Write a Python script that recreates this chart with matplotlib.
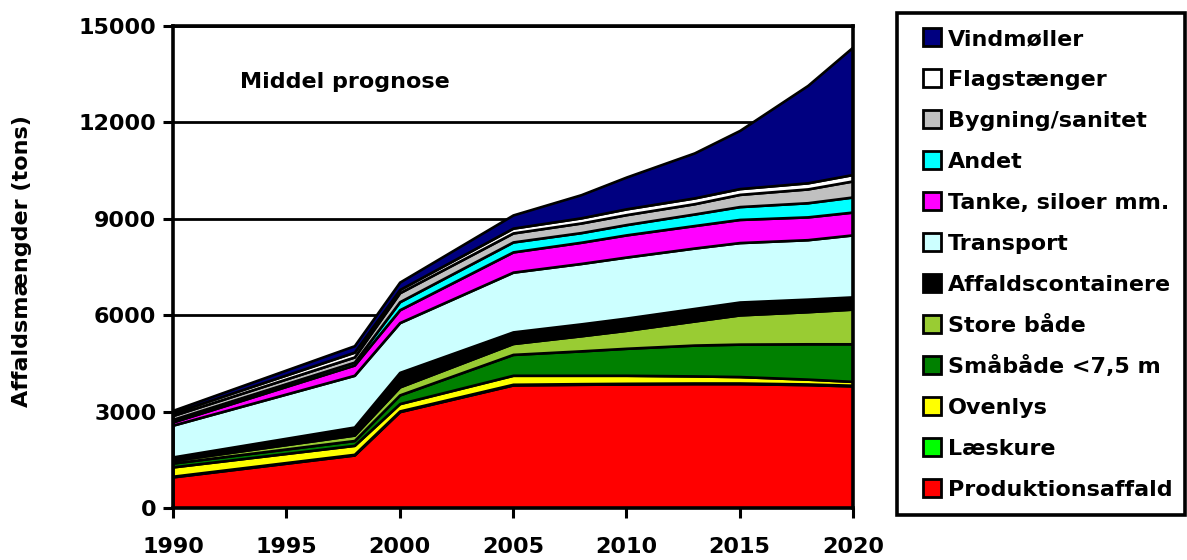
import matplotlib
matplotlib.use("Agg")
import matplotlib.pyplot as plt
from matplotlib.patches import Rectangle

W, H = 1187, 560

years = [1990, 1998, 2000, 2005, 2008, 2010, 2013, 2015, 2018, 2020]

produktion = [970, 1650, 3000, 3830, 3850, 3860, 3870, 3870, 3840, 3800]
laeskure = [20, 20, 20, 20, 20, 20, 20, 20, 20, 20]
ovenlys = [290, 280, 230, 280, 260, 250, 220, 200, 150, 120]
smaabaade = [120, 150, 270, 650, 760, 840, 960, 1010, 1100, 1170]
store_baade = [80, 170, 250, 340, 470, 560, 750, 910, 1000, 1080]
containere = [110, 250, 450, 360, 370, 380, 390, 400, 390, 380]
transport = [990, 1610, 1550, 1860, 1880, 1900, 1880, 1850, 1850, 1930]
tanke = [100, 320, 400, 630, 660, 690, 700, 720, 710, 710]
andet = [80, 90, 250, 310, 300, 320, 360, 400, 440, 470]
bygning = [120, 160, 280, 280, 300, 310, 320, 380, 430, 500]
flag = [80, 150, 100, 150, 160, 180, 180, 180, 190, 200]
vind = [80, 200, 230, 410, 720, 990, 1400, 1810, 3030, 3970]

series = [produktion, laeskure, ovenlys, smaabaade, store_baade, containere,
          transport, tanke, andet, bygning, flag, vind]
labels = ["Produktionsaffald", "Læskure", "Ovenlys", "Småbåde <7,5 m",
          "Store både", "Affaldscontainere", "Transport", "Tanke, siloer mm.",
          "Andet", "Bygning/sanitet", "Flagstænger", "Vindmøller"]
colors = ["#FF0000", "#00FF00", "#FFFF00", "#008000", "#99CC33", "#000000",
          "#CCFFFF", "#FF00FF", "#00FFFF", "#C0C0C0", "#FFFFFF", "#000080"]

plt.rcParams['font.family'] = ['DejaVu Sans']
plt.rcParams['font.weight'] = 'bold'

fig = plt.figure(figsize=(W / 100, H / 100), dpi=100)
ax = fig.add_axes([173 / W, 1 - 508 / H, 680 / W, 482 / H])

ax.stackplot(years, *series, colors=colors, edgecolor='black', linewidth=1.9)

ax.set_xlim(1990, 2020)
ax.set_ylim(0, 15000)
ax.set_xticks(range(1990, 2021, 5))
ax.set_yticks(range(0, 15001, 3000))
ax.set_axisbelow(True)
ax.yaxis.grid(True, color='black', linewidth=2)
for s in ax.spines.values():
    s.set_linewidth(2.6)
    s.set_zorder(5)
ax.tick_params(axis='both', labelsize=16, width=2.2, length=7)
ax.tick_params(axis='x', pad=14)
ax.tick_params(axis='y', pad=5)
for t in ax.get_xticklabels() + ax.get_yticklabels():
    t.set_fontweight('bold')

fig.text(22 / W, 1 - 261 / H, "Affaldsmængder (tons)", rotation=90,
         ha='center', va='center', fontsize=16, fontweight='bold')
fig.text(240 / W, 1 - 82 / H, "Middel prognose", ha='left', va='center',
         fontsize=16, fontweight='bold')

# legend box drawn by hand to match the original layout
fig.patches.append(Rectangle((897 / W, 1 - 515 / H), 288 / W, 502 / H,
                             transform=fig.transFigure, fill=False,
                             linewidth=2.6, edgecolor='black'))
for i, (lab, col) in enumerate(zip(labels[::-1], colors[::-1])):
    yc = 37 + i * 41
    fig.patches.append(Rectangle((923 / W, 1 - (yc + 9) / H), 18 / W, 18 / H,
                                 transform=fig.transFigure, facecolor=col,
                                 edgecolor='black', linewidth=2))
    fig.text(948 / W, 1 - (yc + 8) / H, lab, ha='left', va='baseline',
             fontsize=16, fontweight='bold')

fig.savefig("out.png", dpi=100)
